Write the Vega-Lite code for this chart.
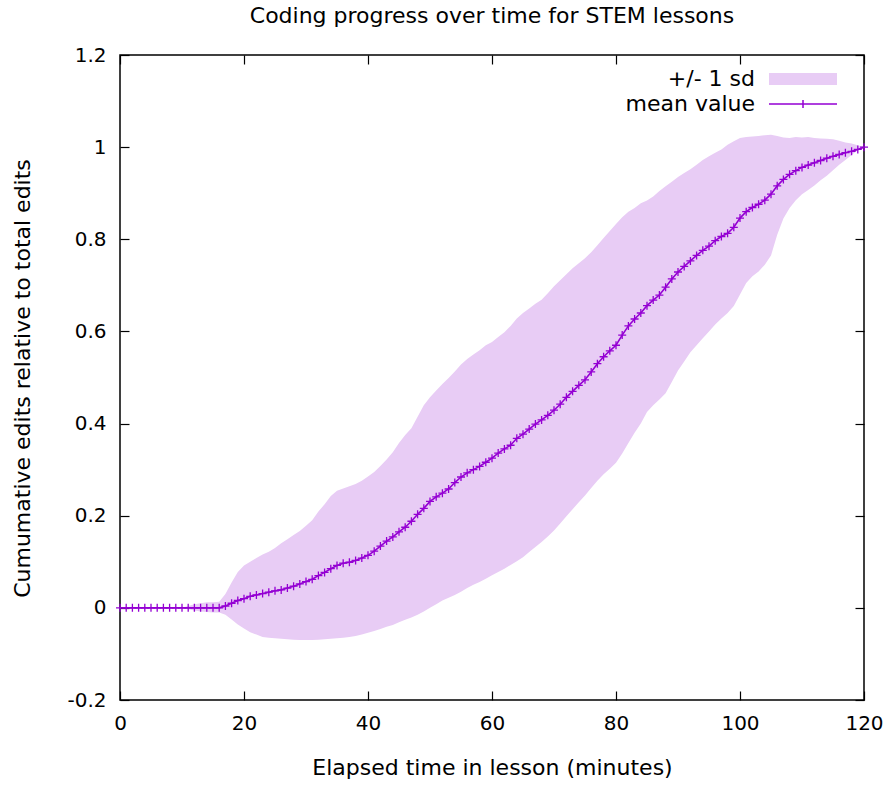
{
  "$schema": "https://vega.github.io/schema/vega-lite/v6.json",
  "width": 744,
  "height": 645,
  "autosize": {"type": "none"},
  "padding": {"left": 120, "top": 55, "right": 31, "bottom": 85},
  "background": "white",
  "config": {"view": {"stroke": "#000", "strokeWidth": 1.5}, "font": "DejaVu Sans"},
  "title": {"text": "Coding progress over time for STEM lessons", "fontSize": 22, "font": "DejaVu Sans", "fontWeight": "normal", "color": "#000", "offset": 17},
  "data": {"values": [
    {"t":0,"mean":0,"lo":0,"hi":0},{"t":1,"mean":0,"lo":0,"hi":0},{"t":2,"mean":0,"lo":0,"hi":0},{"t":3,"mean":0,"lo":0,"hi":0},{"t":4,"mean":0,"lo":0,"hi":0},{"t":5,"mean":0,"lo":0,"hi":0},{"t":6,"mean":0,"lo":0,"hi":0},{"t":7,"mean":0,"lo":0,"hi":0},{"t":8,"mean":0,"lo":0,"hi":0},{"t":9,"mean":0,"lo":0,"hi":0},{"t":10,"mean":0,"lo":0,"hi":0},
    {"t":11,"mean":0,"lo":-0.003,"hi":0.004},{"t":12,"mean":0,"lo":-0.006,"hi":0.008},{"t":13,"mean":0,"lo":-0.008,"hi":0.01},{"t":14,"mean":0,"lo":-0.009,"hi":0.012},{"t":15,"mean":0,"lo":-0.01,"hi":0.012},{"t":16,"mean":0,"lo":-0.01,"hi":0.013},
    {"t":17,"mean":0.004,"lo":-0.015,"hi":0.03},{"t":18,"mean":0.01,"lo":-0.025,"hi":0.055},{"t":19,"mean":0.016,"lo":-0.036,"hi":0.078},{"t":20,"mean":0.02,"lo":-0.045,"hi":0.092},
    {"t":21,"mean":0.025,"lo":-0.053,"hi":0.1},{"t":22,"mean":0.028,"lo":-0.058,"hi":0.108},{"t":23,"mean":0.031,"lo":-0.063,"hi":0.116},{"t":24,"mean":0.034,"lo":-0.065,"hi":0.122},{"t":25,"mean":0.037,"lo":-0.066,"hi":0.13},
    {"t":26,"mean":0.039,"lo":-0.067,"hi":0.14},{"t":27,"mean":0.043,"lo":-0.068,"hi":0.149},{"t":28,"mean":0.047,"lo":-0.069,"hi":0.158},{"t":29,"mean":0.052,"lo":-0.07,"hi":0.167},{"t":30,"mean":0.057,"lo":-0.07,"hi":0.178},
    {"t":31,"mean":0.062,"lo":-0.07,"hi":0.19},{"t":32,"mean":0.07,"lo":-0.069,"hi":0.209},{"t":33,"mean":0.077,"lo":-0.068,"hi":0.225},{"t":34,"mean":0.085,"lo":-0.067,"hi":0.243},{"t":35,"mean":0.092,"lo":-0.066,"hi":0.254},
    {"t":36,"mean":0.097,"lo":-0.065,"hi":0.259},{"t":37,"mean":0.099,"lo":-0.063,"hi":0.264},{"t":38,"mean":0.103,"lo":-0.061,"hi":0.269},{"t":39,"mean":0.108,"lo":-0.058,"hi":0.276},{"t":40,"mean":0.114,"lo":-0.054,"hi":0.285},
    {"t":41,"mean":0.123,"lo":-0.05,"hi":0.295},{"t":42,"mean":0.134,"lo":-0.046,"hi":0.308},{"t":43,"mean":0.145,"lo":-0.041,"hi":0.322},{"t":44,"mean":0.154,"lo":-0.037,"hi":0.338},{"t":45,"mean":0.165,"lo":-0.031,"hi":0.358},
    {"t":46,"mean":0.175,"lo":-0.026,"hi":0.375},{"t":47,"mean":0.188,"lo":-0.021,"hi":0.39},{"t":48,"mean":0.203,"lo":-0.015,"hi":0.415},{"t":49,"mean":0.216,"lo":-0.008,"hi":0.44},{"t":50,"mean":0.231,"lo":0.0,"hi":0.457},
    {"t":51,"mean":0.241,"lo":0.008,"hi":0.472},{"t":52,"mean":0.249,"lo":0.016,"hi":0.486},{"t":53,"mean":0.258,"lo":0.022,"hi":0.499},{"t":54,"mean":0.272,"lo":0.028,"hi":0.513},{"t":55,"mean":0.284,"lo":0.035,"hi":0.528},
    {"t":56,"mean":0.293,"lo":0.043,"hi":0.54},{"t":57,"mean":0.3,"lo":0.05,"hi":0.55},{"t":58,"mean":0.307,"lo":0.056,"hi":0.559},{"t":59,"mean":0.316,"lo":0.063,"hi":0.57},{"t":60,"mean":0.325,"lo":0.071,"hi":0.577},
    {"t":61,"mean":0.336,"lo":0.078,"hi":0.588},{"t":62,"mean":0.345,"lo":0.085,"hi":0.598},{"t":63,"mean":0.353,"lo":0.093,"hi":0.612},{"t":64,"mean":0.368,"lo":0.101,"hi":0.628},{"t":65,"mean":0.377,"lo":0.11,"hi":0.64},
    {"t":66,"mean":0.388,"lo":0.121,"hi":0.65},{"t":67,"mean":0.399,"lo":0.132,"hi":0.66},{"t":68,"mean":0.408,"lo":0.143,"hi":0.669},{"t":69,"mean":0.418,"lo":0.155,"hi":0.683},{"t":70,"mean":0.429,"lo":0.168,"hi":0.698},
    {"t":71,"mean":0.442,"lo":0.183,"hi":0.711},{"t":72,"mean":0.457,"lo":0.199,"hi":0.724},{"t":73,"mean":0.47,"lo":0.214,"hi":0.737},{"t":74,"mean":0.483,"lo":0.229,"hi":0.748},{"t":75,"mean":0.495,"lo":0.244,"hi":0.759},
    {"t":76,"mean":0.512,"lo":0.26,"hi":0.772},{"t":77,"mean":0.53,"lo":0.276,"hi":0.787},{"t":78,"mean":0.545,"lo":0.29,"hi":0.803},{"t":79,"mean":0.558,"lo":0.302,"hi":0.818},{"t":80,"mean":0.57,"lo":0.315,"hi":0.833},
    {"t":81,"mean":0.592,"lo":0.335,"hi":0.848},{"t":82,"mean":0.612,"lo":0.358,"hi":0.86},{"t":83,"mean":0.627,"lo":0.38,"hi":0.868},{"t":84,"mean":0.64,"lo":0.4,"hi":0.878},{"t":85,"mean":0.656,"lo":0.425,"hi":0.884},
    {"t":86,"mean":0.668,"lo":0.44,"hi":0.893},{"t":87,"mean":0.679,"lo":0.452,"hi":0.905},{"t":88,"mean":0.696,"lo":0.466,"hi":0.915},{"t":89,"mean":0.714,"lo":0.49,"hi":0.925},{"t":90,"mean":0.729,"lo":0.515,"hi":0.935},
    {"t":91,"mean":0.741,"lo":0.535,"hi":0.944},{"t":92,"mean":0.753,"lo":0.555,"hi":0.952},{"t":93,"mean":0.765,"lo":0.57,"hi":0.962},{"t":94,"mean":0.776,"lo":0.585,"hi":0.972},{"t":95,"mean":0.785,"lo":0.6,"hi":0.98},
    {"t":96,"mean":0.797,"lo":0.615,"hi":0.988},{"t":97,"mean":0.806,"lo":0.628,"hi":0.995},{"t":98,"mean":0.813,"lo":0.64,"hi":1.005},{"t":99,"mean":0.826,"lo":0.655,"hi":1.013},{"t":100,"mean":0.846,"lo":0.68,"hi":1.02},
    {"t":101,"mean":0.86,"lo":0.705,"hi":1.022},{"t":102,"mean":0.869,"lo":0.72,"hi":1.023},{"t":103,"mean":0.876,"lo":0.73,"hi":1.024},{"t":104,"mean":0.885,"lo":0.745,"hi":1.026},{"t":105,"mean":0.898,"lo":0.765,"hi":1.027},
    {"t":106,"mean":0.916,"lo":0.81,"hi":1.024},{"t":107,"mean":0.93,"lo":0.845,"hi":1.021},{"t":108,"mean":0.941,"lo":0.868,"hi":1.02},{"t":109,"mean":0.949,"lo":0.885,"hi":1.022},{"t":110,"mean":0.956,"lo":0.898,"hi":1.021},
    {"t":111,"mean":0.961,"lo":0.907,"hi":1.022},{"t":112,"mean":0.966,"lo":0.917,"hi":1.02},{"t":113,"mean":0.971,"lo":0.928,"hi":1.019},{"t":114,"mean":0.976,"lo":0.938,"hi":1.018},{"t":115,"mean":0.98,"lo":0.95,"hi":1.017},
    {"t":116,"mean":0.984,"lo":0.962,"hi":1.014},{"t":117,"mean":0.988,"lo":0.972,"hi":1.01},{"t":118,"mean":0.991,"lo":0.983,"hi":1.008},{"t":119,"mean":0.995,"lo":0.993,"hi":1.004},{"t":120,"mean":1.0,"lo":1.0,"hi":1.0}
  ]},
  "layer": [
    {
      "mark": {"type": "area", "opacity": 1, "interpolate": "linear"},
      "encoding": {
        "x": {"field": "t", "type": "quantitative", "scale": {"domain": [0, 120], "nice": false},
          "axis": {"orient": "bottom", "values": [0, 20, 40, 60, 80, 100, 120], "tickSize": -9, "tickColor": "#000", "tickWidth": 1.2, "domain": false, "grid": false,
            "labelFontSize": 20, "labelColor": "#000", "labelFont": "DejaVu Sans", "labelPadding": 22, "labelFlush": false,
            "title": "Elapsed time in lesson (minutes)", "titleFontSize": 22, "titleFontWeight": "normal", "titleColor": "#000", "titleFont": "DejaVu Sans", "titleY": 67, "titleBaseline": "middle"}},
        "y": {"field": "lo", "type": "quantitative", "scale": {"domain": [-0.2, 1.2], "nice": false, "zero": false},
          "axis": {"orient": "left", "values": [-0.2, 0, 0.2, 0.4, 0.6, 0.8, 1, 1.2], "labelExpr": "replace(format(datum.value, '~g'), '\u2212', '-')", "tickSize": -9, "tickColor": "#000", "tickWidth": 1.2, "domain": false, "grid": false,
            "labelFontSize": 20, "labelColor": "#000", "labelFont": "DejaVu Sans", "labelPadding": 23, "labelFlush": false,
            "title": "Cumumative edits relative to total edits", "titleFontSize": 22, "titleFontWeight": "normal", "titleColor": "#000", "titleFont": "DejaVu Sans", "titleAngle": -90, "titleX": -98, "titleY": 323, "titleBaseline": "middle", "titleAlign": "center"}},
        "y2": {"field": "hi"},
        "fill": {"datum": "+/- 1 sd", "type": "nominal",
          "scale": {"domain": ["+/- 1 sd"], "range": ["#e8ccf5"]},
          "legend": {"orient": "none", "legendX": 672, "legendY": 13, "title": null, "padding": 0, "labelFontSize": 22, "labelFont": "DejaVu Sans", "labelColor": "#000",
            "symbolSize": 400, "symbolType": "M-3.4,-0.6H3.4V0.6H-3.4Z", "symbolStrokeColor": "transparent", "symbolStrokeWidth": 0, "symbolOpacity": 1,
            "labelAlign": "right", "labelOffset": -59, "labelLimit": 300}}
      }
    },
    {
      "mark": {"type": "line", "strokeWidth": 1.6, "point": {"shape": "M-1,0H1M0,-1V1", "filled": false, "size": 64, "strokeWidth": 1.3}},
      "encoding": {
        "x": {"field": "t", "type": "quantitative", "axis": {"orient": "top", "values": [0, 20, 40, 60, 80, 100, 120], "tickSize": -9, "tickColor": "#000", "tickWidth": 1.2, "domain": false, "grid": false, "labels": false, "title": null}},
        "y": {"field": "mean", "type": "quantitative", "axis": {"orient": "right", "values": [-0.2, 0, 0.2, 0.4, 0.6, 0.8, 1, 1.2], "tickSize": -9, "tickColor": "#000", "tickWidth": 1.2, "domain": false, "grid": false, "labels": false, "title": null}},
        "stroke": {"datum": "mean value", "type": "nominal",
          "scale": {"domain": ["mean value"], "range": ["#9400d3"]},
          "legend": {"orient": "none", "legendX": 672, "legendY": 38, "title": null, "padding": 0, "labelFontSize": 22, "labelFont": "DejaVu Sans", "labelColor": "#000",
            "symbolSize": 400, "symbolType": "M-3.4,0H3.4M0,-0.4V0.4", "symbolFillColor": "transparent", "symbolStrokeWidth": 1.5, "symbolOpacity": 1,
            "labelAlign": "right", "labelOffset": -59, "labelLimit": 300}}
      }
    }
  ],
  "resolve": {"axis": {"x": "independent", "y": "independent"}}
}
